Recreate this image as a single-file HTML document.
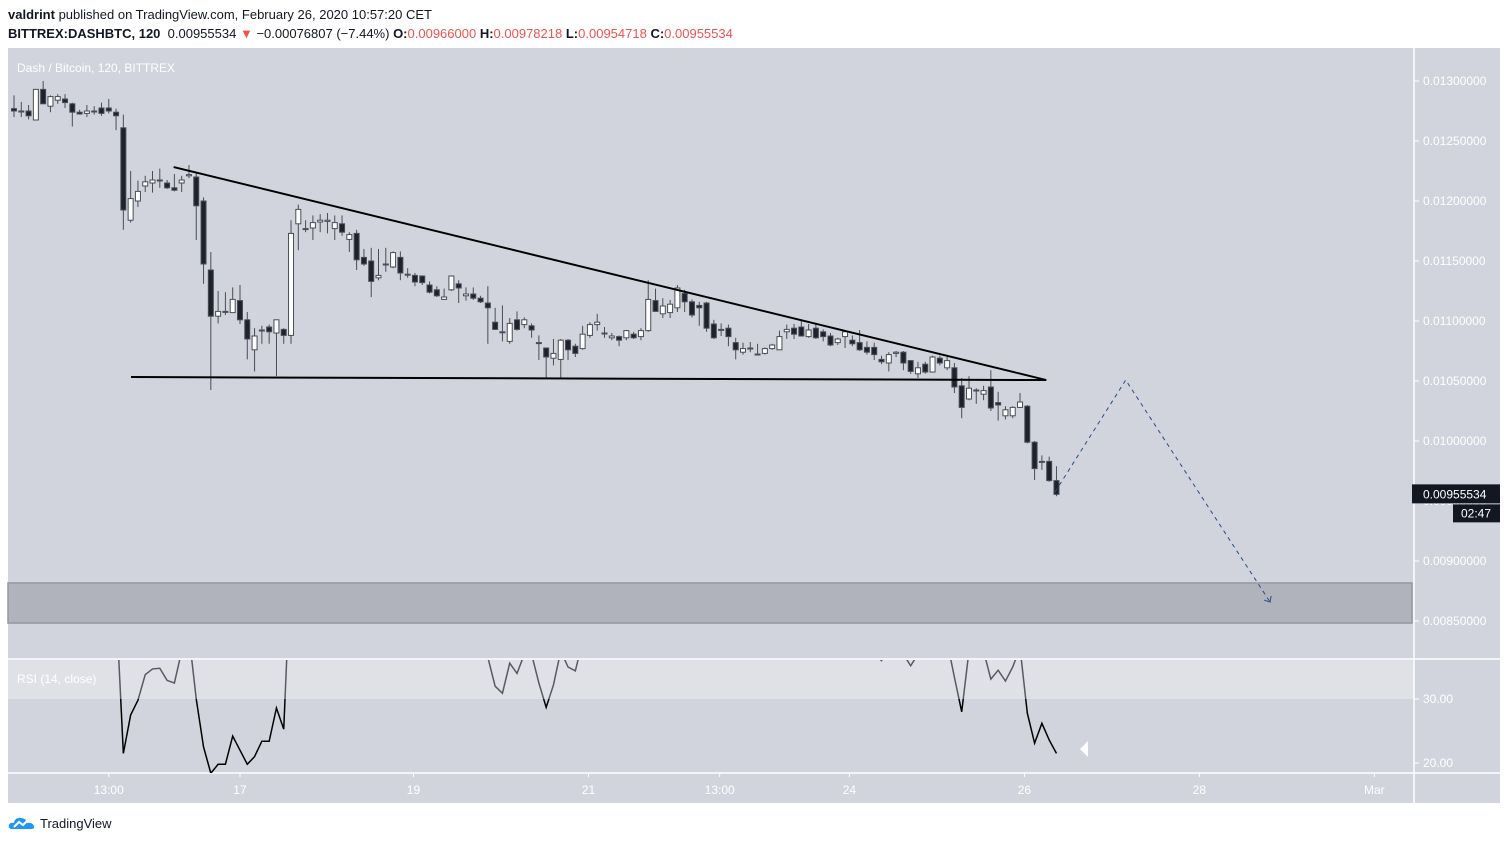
<!DOCTYPE html>
<html><head><meta charset="utf-8">
<style>
body{margin:0;width:1508px;height:844px;background:#fff;font-family:"Liberation Sans",sans-serif;overflow:hidden;position:relative}
.hdr{position:absolute;left:8px;font-size:13px;color:#131722;white-space:nowrap}
.r{color:#ef5350}
svg{position:absolute;left:0;top:0}
</style></head><body>
<div class="hdr" style="top:7px"><b>valdrint</b> published on TradingView.com, February 26, 2020 10:57:20 CET</div>
<div class="hdr" style="top:26px"><b>BITTREX:DASHBTC, 120</b>&nbsp; 0.00955534 <span class="r">▼</span> −0.00076807 (−7.44%) <b>O:</b><span class="r">0.00966000</span> <b>H:</b><span class="r">0.00978218</span> <b>L:</b><span class="r">0.00954718</span> <b>C:</b><span class="r">0.00955534</span></div>
<div style="position:absolute;left:8px;top:815px;font-size:13px;color:#131722;display:flex;align-items:center;gap:4px">
<svg width="28" height="16" style="position:static"><path d="M4 14 Q0 14 1 10 Q2 7 6 8 Q7 2 13 3 Q18 3 19 8 Q24 7 26 11 Q27 14 23 14 Z" fill="#2196f3"/><path d="M6 12 L11 7 L15 10 L20 5" stroke="#fff" stroke-width="2" fill="none"/></svg>TradingView</div>
<svg id="chart" width="1508" height="844"></svg>
<script>
const opens=[1277,1275,1275,1267.5,1293,1279,1284,1285,1281,1274,1273,1275,1277.5,1277.5,1274,1261,1184,1200,1212.5,1215,1217.5,1215,1211,1215,1221,1220,1200,1142.5,1104,1108,1107,1117,1101,1076,1092.5,1095,1090,1093,1088,1181,1177,1177.5,1182.5,1183,1177,1181,1168,1173,1153,1150,1136,1147.5,1145,1153,1139,1138,1137.5,1130,1126,1118,1126,1131,1121,1122.5,1119,1115,1099,1091,1083,1101,1097,1096,1082,1077.5,1069,1068,1084,1079,1077,1088,1097,1090,1086,1087,1086,1089,1087,1092,1117,1106,1107,1111,1123,1116,1113,1115,1097.5,1093,1094,1082,1074,1077.5,1072.5,1073,1077,1076,1091,1094,1095,1087,1094,1091,1087.5,1082,1087,1084,1082,1078,1078,1068,1065,1073,1074,1067,1056,1064,1057.5,1069,1061,1061,1046,1035,1042.5,1039,1045,1032,1021,1021,1028,1029,999,983,983,967];
const closes=[1275,1274.5,1271,1293,1281,1287,1287,1282,1274,1272.5,1275,1274.6,1273,1275,1271,1192.5,1202,1208,1216,1217.5,1217,1211,1209,1217.5,1222,1196,1147.5,1104,1108,1107.5,1118,1101,1085,1087.5,1092,1091,1101,1088,1173,1193,1176.5,1182,1184,1184,1182,1174,1172,1151,1147.5,1133,1138,1147,1157,1140,1138.5,1132.5,1132,1124,1121,1120,1137.5,1127.5,1122.5,1119,1116,1111,1093,1090.5,1098,1093,1101,1092.5,1081.5,1070,1073,1084,1076,1073,1089,1097,1099,1089.6,1087.5,1084,1092,1086,1092,1118,1108,1112.5,1114,1127.5,1116,1105,1111,1094,1086,1092.5,1087,1076,1077,1077,1072,1077,1080,1087,1093,1089,1087.5,1092.5,1086,1087,1080,1085,1091,1081,1076,1074,1072,1066,1072,1074,1065,1058,1061,1057.5,1070,1065,1067,1045,1028,1044,1042,1042,1027.5,1030,1026,1028,1032.5,999,977,982.5,967,955.534];
const highs=[1288,1282.5,1280,1293,1300,1288,1289,1289,1282,1276,1280,1279,1282,1285,1277,1272,1225,1217,1221,1225,1227,1217.5,1222.5,1221,1230,1224,1203,1157.5,1125,1124,1128,1130,1107.5,1094,1096,1097,1101,1094,1184,1197,1184,1188,1189,1190,1188,1188,1174,1176,1160,1161,1160,1161,1158,1158,1144,1140,1138,1133,1129,1127,1138,1134,1128,1128,1121,1129,1111,1113,1102.5,1108,1103,1098,1088,1077.5,1085,1085,1085,1081,1096,1099,1106,1095,1090,1088,1092.5,1091,1094,1134,1127,1119,1117.5,1130,1126,1118,1116,1116,1101,1098,1097,1086,1082,1082.5,1081,1078,1081,1092,1097,1097.5,1101,1097.5,1097,1093,1090,1086,1092,1088,1092.5,1083,1082,1071,1074,1075,1075,1067.5,1066,1066,1071,1071,1070,1065,1052.5,1054,1044,1046,1059,1041,1029,1029,1040,1030,1000,988,987,979];
const lows=[1270,1270,1268,1267.5,1281,1274,1281,1277.5,1262,1272,1270,1272,1271,1273,1259,1176,1182,1195,1207.5,1207,1211,1210,1208,1207.5,1219,1167.5,1131,1042.5,1098,1105,1107,1097.5,1068,1058,1081,1081,1054,1081,1081,1159,1174,1167.5,1174,1173,1167.5,1171,1157.5,1142.5,1146,1120,1134,1141,1144,1134,1136,1129,1130,1123,1120,1117.5,1125,1115,1117,1117.5,1115,1081,1092.5,1083,1081,1092,1094,1086,1067.5,1053,1063,1052.5,1067.5,1070,1076,1086,1092,1086,1084,1079,1084,1085,1084,1091,1108,1102.5,1102.5,1107.5,1107.5,1103,1096,1091,1085,1087.5,1079,1068,1072,1074,1071.5,1072,1076,1076,1085,1085,1087,1086,1085,1083,1079,1080,1077.5,1079,1075,1072,1067.5,1064,1058,1070,1059,1056,1052.5,1056,1057,1063,1059,1040,1019,1034,1031,1034,1025,1017,1018,1019,1027.5,998,967.5,976,966,954];
const rsi=[55,54,52,58,52,56,56,53,48,47,49,49,47,48,45,21.5,27.5,29.8,33.8,34.7,34.8,32.9,32.5,37.5,40,30,22.5,18.4,19.8,19.8,24.2,22,19.8,21,23.4,23.4,28.6,25.3,52,58,52,54,55,55,53,50,48,42,41,38,40,44,48,42,42,40,40,38,37,37,44,40,38,37.5,37,36.5,32,30.9,35.6,34,37,37,32.5,28.7,32.2,37.5,35,34.4,39,45,47,44,43,42,45,43,45,55,50,52,52,56,51,46,48,41,38,40,38,38,39,39,38,39,40,42,45,43,42,44,41,42,39,41,44,40,38,37.5,37,36,38,39,37,35.2,37,36.3,40,38,39,33.4,28,37.5,37,37.5,33.1,34.5,32.8,35,38,27.8,23.1,26.2,23.6,21.5];
const priceTicks=[0.0130,0.0125,0.0120,0.0115,0.0110,0.0105,0.0100,0.0095,0.0090,0.0085];
const rsiTicks=[30,20];
const timeLabels=["13:00","17","19","21","13:00","24","26","28","Mar"];
const timeLabelIdx=[13.0,31.0,54.8,78.8,96.8,114.6,138.6,162.6,186.6];
const triTop=[[21.9,1228.3],[141.6,1050.8]];
const triBottom=[[16.05,1053.3],[141.6,1050.8]];
const projection=[[142.8,957.5],[152.5,1050.8],[172.3,865.8]];
const zone=[881.7,848.3];

const NS="http://www.w3.org/2000/svg";
const svg=document.getElementById('chart');
const L=8,R=1414,PT=48,PB=658,RT=660,RB=773,AX=803;
const xOf=i=>14+i*7.29;
const yOf=v=>81+(1300-v)*1.2;
const yP=p=>yOf(p*1e5);
const yR=r=>763-(r-20)*6.4;
function el(t,a,p){const e=document.createElementNS(NS,t);for(const k in a)e.setAttribute(k,a[k]);(p||svg).appendChild(e);return e;}

let e;
e=el('rect',{x:L,y:PT,width:1500-L,height:AX-PT,fill:'#d1d4dc'});


e=el('rect',{x:L,y:RT,width:R-L,height:yR(30)-RT,fill:'#e0e1e6'});


el('line',{x1:L,y1:RT-1,x2:1500,y2:RT-1,stroke:'#fff','stroke-width':1.5});
el('line',{x1:L,y1:RB,x2:1500,y2:RB,stroke:'#fff','stroke-width':1.5});
el('line',{x1:R,y1:PT,x2:R,y2:AX,stroke:'#fff','stroke-width':1.5});

const defs=el('defs',{});
const c1=el('clipPath',{id:'cp'},defs);el('rect',{x:L,y:PT,width:R-L,height:PB-PT},c1);
const c2=el('clipPath',{id:'cu'},defs);el('rect',{x:L,y:RT,width:R-L,height:yR(30)-RT},c2);
const c3=el('clipPath',{id:'cl'},defs);el('rect',{x:L,y:yR(30),width:R-L,height:RB-yR(30)},c3);

e=el('rect',{x:L,y:yOf(zone[0]),width:R-L-2,height:yOf(zone[1])-yOf(zone[0]),fill:'#b0b3bb',stroke:'#9598a1','stroke-width':1.5});



const g=el('g',{'clip-path':'url(#cp)'});


for(let i=0;i<closes.length;i++){
  const x=xOf(i),o=opens[i],c=closes[i];
  const up=c>=o;
  const w=el('line',{x1:x,y1:yOf(highs[i]),x2:x,y2:yOf(lows[i]),stroke:'#4a4d55','stroke-width':1},g);
  
  
  const top=yOf(Math.max(o,c)),bot=yOf(Math.min(o,c));
  const b=el('rect',{x:x-2.5,y:top,width:5,height:Math.max(1,bot-top),fill:up?'#ffffff':'#1e222d',stroke:'#4a4d55','stroke-width':1},g);
  
  
}
e=el('line',{x1:xOf(triTop[0][0]),y1:yOf(triTop[0][1]),x2:xOf(triTop[1][0]),y2:yOf(triTop[1][1]),stroke:'#000','stroke-width':2});


e=el('line',{x1:xOf(triBottom[0][0]),y1:yOf(triBottom[0][1]),x2:xOf(triBottom[1][0]),y2:yOf(triBottom[1][1]),stroke:'#000','stroke-width':2});


e=el('polyline',{points:projection.map(p=>xOf(p[0])+','+yOf(p[1])).join(' '),fill:'none',stroke:'#2a4a8a','stroke-width':1,'stroke-dasharray':'4 4'});


const pe=projection[2],px=xOf(pe[0]),py=yOf(pe[1]);
e=el('polyline',{points:`${px-6},${py-2} ${px},${py} ${px+1},${py-6}`,fill:'none',stroke:'#2a4a8a','stroke-width':1});



const pts=rsi.map((r,i)=>xOf(i)+','+yR(r)).join(' ');
e=el('polyline',{points:pts,fill:'none',stroke:'#555a63','stroke-width':1.5,'clip-path':'url(#cu)'});


e=el('polyline',{points:pts,fill:'none',stroke:'#000','stroke-width':1.5,'clip-path':'url(#cl)'});


e=el('polygon',{points:'1080,749 1088,741 1088,757',fill:'#fff'});



function txt(x,y,s,sz,fill,anchor,name,inter){const t=el('text',{x,y,'font-size':sz,fill,'text-anchor':anchor||'start','font-family':'Liberation Sans, sans-serif'});t.textContent=s;return t;}
txt(17,72,'Dash / Bitcoin, 120, BITTREX',12,'#fff','start','chart-title');
txt(17,683,'RSI (14, close)',12,'#fff','start','rsi-title');

priceTicks.forEach(p=>{const y=yP(p);el('line',{x1:R,y1:y,x2:R+5,y2:y,stroke:'#fff'});txt(1423,y+4,p.toFixed(8),12,'#fff','start','price-tick-label');});
rsiTicks.forEach(r=>{const y=yR(r);el('line',{x1:R,y1:y,x2:R+5,y2:y,stroke:'#fff'});txt(1423,y+4,r.toFixed(2),12,'#fff','start','rsi-tick-label');});
timeLabels.forEach((s,k)=>{const x=xOf(timeLabelIdx[k]);el('line',{x1:x,y1:RB,x2:x,y2:RB+4,stroke:'#fff'});txt(x,794,s,12,'#fff','middle','time-tick-label');});

const lastV=closes[closes.length-1];
const ly=yOf(lastV);
e=el('rect',{x:R-2,y:ly-10,width:1500-R+2,height:19,fill:'#131722'});


txt(1423,ly+4,(lastV/1e5).toFixed(8),12,'#fff','start','last-price-label');
e=el('rect',{x:1453,y:ly+10,width:47,height:18,fill:'#131722'});


txt(1476,ly+23,'02:47',12,'#fff','middle','countdown-label');
</script>
</body></html>
